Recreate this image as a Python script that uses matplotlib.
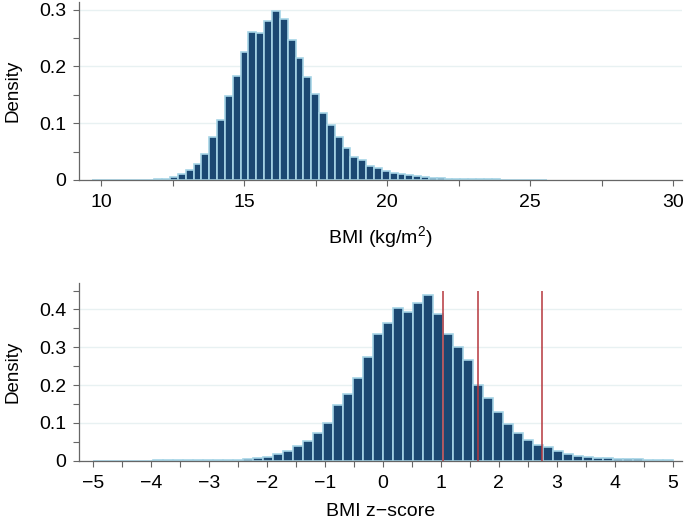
import numpy as np
import matplotlib
matplotlib.use('Agg')
import matplotlib.pyplot as plt
import matplotlib.ticker as tick

plt.rcParams['font.family'] = ['Liberation Sans', 'DejaVu Sans']

# BMI (kg/m2) histogram, 58 bins from 9.67 to 25.58
bmi_range = (9.67, 25.58)
bmi_density = [0.0004, 0.0003, 0.0003, 0.0004, 0.0004, 0.0005, 0.0006, 0.0008, 0.0012,
               0.002, 0.006, 0.010, 0.018, 0.029, 0.046, 0.075, 0.105, 0.148, 0.183,
               0.226, 0.261, 0.259, 0.280, 0.297, 0.284, 0.246, 0.215, 0.181, 0.152,
               0.118, 0.097, 0.075, 0.057, 0.041, 0.035, 0.025, 0.021, 0.016, 0.013,
               0.011, 0.008, 0.0065, 0.005, 0.004, 0.0035, 0.0025, 0.002, 0.0018, 0.0015,
               0.0012, 0.001, 0.0009, 0.0008, 0.0007, 0.0006, 0.0005, 0.0004, 0.0003]

# BMI z-score histogram, 58 bins from -5 to 5
z_range = (-5.0, 5.0)
z_density = [0.0004, 0.0003, 0.0003, 0.0003, 0.0004, 0.0004, 0.0005, 0.0005, 0.0006,
             0.0008, 0.001, 0.0012, 0.0016, 0.0022, 0.003, 0.005, 0.008, 0.011, 0.018,
             0.026, 0.040, 0.053, 0.074, 0.100, 0.146, 0.176, 0.218, 0.273, 0.335,
             0.365, 0.405, 0.394, 0.416, 0.437, 0.389, 0.335, 0.302, 0.267, 0.200,
             0.167, 0.128, 0.098, 0.072, 0.055, 0.041, 0.035, 0.026, 0.018, 0.013,
             0.011, 0.008, 0.007, 0.005, 0.0045, 0.0035, 0.0025, 0.002, 0.002]

# cut-offs drawn as red lines
z_cuts = [1.036, 1.645, 2.75]

FILL = '#1b4872'
EDGE = '#a6d4e6'
GRID = '#e8f1f2'
AXC = '#666666'


def draw_hist(ax, rng, dens):
    edges = np.linspace(rng[0], rng[1], len(dens) + 1)
    centers = (edges[:-1] + edges[1:]) / 2
    ax.bar(centers, dens, width=edges[1] - edges[0], color=FILL,
           edgecolor=EDGE, linewidth=1.2, zorder=2)


def style(ax):
    for s in ['top', 'right']:
        ax.spines[s].set_visible(False)
    for s in ['left', 'bottom']:
        ax.spines[s].set_color(AXC)
        ax.spines[s].set_linewidth(0.9)
    ax.tick_params(which='both', direction='out', length=4, width=0.8,
                   color=AXC, labelsize=14)
    ax.tick_params(axis='x', pad=6)
    ax.tick_params(axis='y', pad=5)
    ax.grid(which='major', axis='y', color=GRID, linewidth=1, zorder=0)
    ax.set_axisbelow(True)
    ax.set_ylabel('Density', fontsize=13.5, labelpad=13)


fig = plt.figure(figsize=(6.85, 5.3), dpi=100)

ax1 = fig.add_axes([0.1153, 0.6604, 0.8798, 0.3364])
draw_hist(ax1, bmi_range, bmi_density)
ax1.set_xlim(9.23, 30.3)
ax1.set_ylim(0, 0.314)
ax1.xaxis.set_major_locator(tick.MultipleLocator(5))
ax1.xaxis.set_minor_locator(tick.MultipleLocator(2.5))
ax1.yaxis.set_major_locator(tick.MultipleLocator(0.1))
ax1.yaxis.set_minor_locator(tick.MultipleLocator(0.05))
ax1.yaxis.set_major_formatter(tick.FuncFormatter(lambda v, p: '0' if v == 0 else '{:.1f}'.format(v)))
style(ax1)
ax1.set_xlabel(r'BMI (kg/m$^{\mathregular{2}}$)', fontsize=14, labelpad=10)

ax2 = fig.add_axes([0.1153, 0.1308, 0.8798, 0.3352])
draw_hist(ax2, z_range, z_density)
ax2.vlines(z_cuts, 0, 0.45, color='#b5373d', linewidth=1.1, zorder=3)
ax2.set_xlim(-5.24, 5.15)
ax2.set_ylim(0, 0.47)
ax2.xaxis.set_major_locator(tick.MultipleLocator(1))
ax2.xaxis.set_minor_locator(tick.MultipleLocator(0.5))
ax2.yaxis.set_major_locator(tick.FixedLocator([0, 0.1, 0.2, 0.3, 0.4]))
ax2.yaxis.set_minor_locator(tick.FixedLocator(np.arange(0, 0.46, 0.05)))
ax2.yaxis.set_major_formatter(tick.FuncFormatter(lambda v, p: '0' if v == 0 else '{:.1f}'.format(v)))
style(ax2)
ax2.set_xlabel('BMI z\u2212score', fontsize=14, labelpad=8)

fig.savefig('out.png', dpi=100)
